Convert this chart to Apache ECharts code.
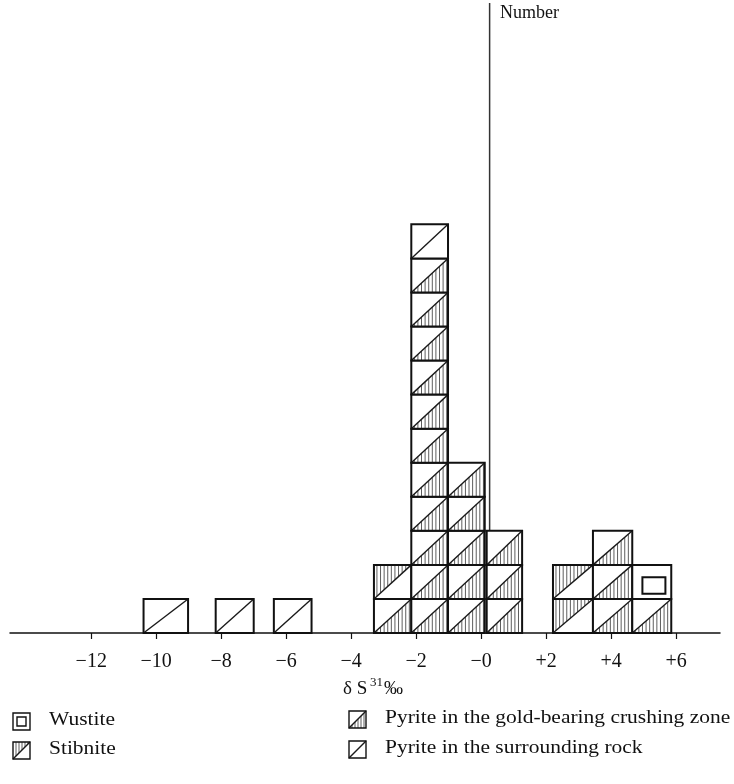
<!DOCTYPE html>
<html>
<head>
<meta charset="utf-8">
<script src="https://cdn.jsdelivr.net/npm/echarts@6/dist/echarts.min.js"></script>
<style>
  html, body { margin: 0; padding: 0; background: #fff; }
  #chart { width: 734px; height: 784px; }
</style>
</head>
<body>
<div id="chart"></div>
<script>
// Sulfur-isotope histogram: one square per sample, stacked within each bin.
const binLow  = [-10.39, -8.17, -6.38, -3.30, -2.15, -1.02, 0.17, 2.21, 3.44, 4.65];
const binHigh = [-9.02, -7.00, -5.22, -2.15, -1.02, 0.11, 1.26, 3.44, 4.65, 5.85];
const goldZonePyrite = [0, 0, 0, 1, 11, 5, 3, 0, 3, 1];
const stibnite       = [0, 0, 0, 1, 0, 0, 0, 2, 0, 0];
const hostRockPyrite = [1, 1, 1, 0, 1, 0, 0, 0, 0, 0];
const wustite        = [0, 0, 0, 0, 0, 0, 0, 0, 0, 1];
const tickValues = [-12, -10, -8, -6, -4, -2, 0, 2, 4, 6];
const tickLabels = ['−12', '−10', '−8', '−6', '−4', '−2', '−0', '+2', '+4', '+6'];
const numberAxisX = 0.26;

const KIND_GOLD = 0, KIND_STIB = 1, KIND_HOST = 2, KIND_WUST = 3;
const SERIF = '"Liberation Serif", "DejaVu Serif", serif';

// stack order within a bin: gold-zone pyrite, stibnite, host-rock pyrite, wustite
const cells = [];
binLow.forEach((lo, i) => {
  let level = 0;
  [[goldZonePyrite, KIND_GOLD], [stibnite, KIND_STIB], [hostRockPyrite, KIND_HOST], [wustite, KIND_WUST]]
    .forEach(([arr, kind]) => {
      for (let k = 0; k < arr[i]; k++) {
        cells.push([lo, binHigh[i], level, kind]);
        level++;
      }
    });
});

// draws one sample square with its fill pattern
function squareElements(x0, y0, x1, y1, kind, bw, step) {
  const w = x1 - x0, h = y1 - y0;
  const els = [{
    type: 'rect', shape: { x: x0, y: y0, width: w, height: h },
    style: { fill: '#fff', stroke: null }
  }];
  if (kind === KIND_GOLD || kind === KIND_STIB) {
    for (let x = x0 + 3; x < x1 - 1; x += step) {
      const yd = y1 - (x - x0) / w * h;
      els.push({
        type: 'line',
        shape: kind === KIND_GOLD ? { x1: x, y1: y1, x2: x, y2: yd } : { x1: x, y1: y0, x2: x, y2: yd },
        style: { stroke: '#5e5e5e', lineWidth: 1 }
      });
    }
  }
  if (kind !== KIND_WUST) {
    els.push({
      type: 'line', shape: { x1: x0, y1: y1, x2: x1, y2: y0 },
      style: { stroke: '#1a1a1a', lineWidth: 1.4 }
    });
  } else {
    els.push({
      type: 'rect',
      shape: { x: x0 + 0.26 * w, y: y0 + 0.36 * h, width: 0.59 * w, height: 0.49 * h },
      style: { fill: 'none', stroke: '#111', lineWidth: bw }
    });
  }
  els.push({
    type: 'rect', shape: { x: x0, y: y0, width: w, height: h },
    style: { fill: 'none', stroke: '#111', lineWidth: bw }
  });
  return els;
}

const chart = echarts.init(document.getElementById('chart'));

const legendItems = [
  { x: 13, y: 713, kind: KIND_WUST, text: 'Wustite' },
  { x: 13, y: 742, kind: KIND_STIB, text: 'Stibnite' },
  { x: 349, y: 711, kind: KIND_GOLD, text: 'Pyrite in the gold-bearing crushing zone' },
  { x: 349, y: 741, kind: KIND_HOST, text: 'Pyrite in the surrounding rock' }
];
const legendGraphics = [];
legendItems.forEach(it => {
  const s = 17;
  const icon = squareElements(it.x, it.y, it.x + s, it.y + s, it.kind, 1.4, 3);
  if (it.kind === KIND_WUST) {
    // legend wustite icon: centred inner square
    icon[1].shape = { x: it.x + 4, y: it.y + 4, width: s - 8, height: s - 8 };
  }
  legendGraphics.push({ type: 'group', silent: true, children: icon });
  legendGraphics.push({
    type: 'text', x: it.x + s + 19, y: it.y + s / 2 - 11, scaleX: 1.13,
    style: { text: it.text, font: '19px ' + SERIF, fill: '#111' }
  });
});

chart.setOption({
  animation: false,
  backgroundColor: '#fff',
  grid: { left: 10, right: 14, top: 3, bottom: 151, containLabel: false, outerBoundsMode: 'none' },
  xAxis: {
    type: 'value', min: -14.5, max: 7.35,
    axisLine: { show: true, onZero: false, lineStyle: { color: '#111', width: 1.5 } },
    axisTick: { show: true, customValues: tickValues, length: 6, lineStyle: { color: '#111', width: 1.2 } },
    axisLabel: {
      customValues: tickValues,
      formatter: v => tickLabels[tickValues.indexOf(v)],
      fontFamily: SERIF, fontSize: 20, color: '#111', margin: 19
    },
    splitLine: { show: false }
  },
  yAxis: { type: 'value', min: 0, max: 18.5, show: false },
  series: [
    {
      type: 'line', z: 1, silent: true, showSymbol: false,
      data: [[numberAxisX, 0], [numberAxisX, 18.5]],
      lineStyle: { color: '#333', width: 1.5 }
    },
    {
      type: 'custom', z: 2, silent: true,
      data: cells,
      renderItem: (params, api) => {
        const a = api.coord([api.value(0), api.value(2)]);
        const b = api.coord([api.value(1), api.value(2) + 1]);
        return { type: 'group', children: squareElements(a[0], b[1], b[0], a[1], api.value(3), 2, 3.6) };
      }
    }
  ],
  graphic: [
    {
      type: 'text', left: 500, top: 4,
      style: { text: 'Number', font: '18px ' + SERIF, fill: '#111' }
    },
    {
      type: 'group', left: 343, top: 676,
      children: [
        { type: 'text', x: 0, y: 4, style: { text: 'δ S', font: '19px ' + SERIF, fill: '#111' } },
        { type: 'text', x: 27, y: 0, style: { text: '31', font: '13px ' + SERIF, fill: '#111' } },
        { type: 'text', x: 41, y: 4, style: { text: '‰', font: '19px ' + SERIF, fill: '#111' } }
      ]
    }
  ].concat(legendGraphics)
});
</script>
</body>
</html>
